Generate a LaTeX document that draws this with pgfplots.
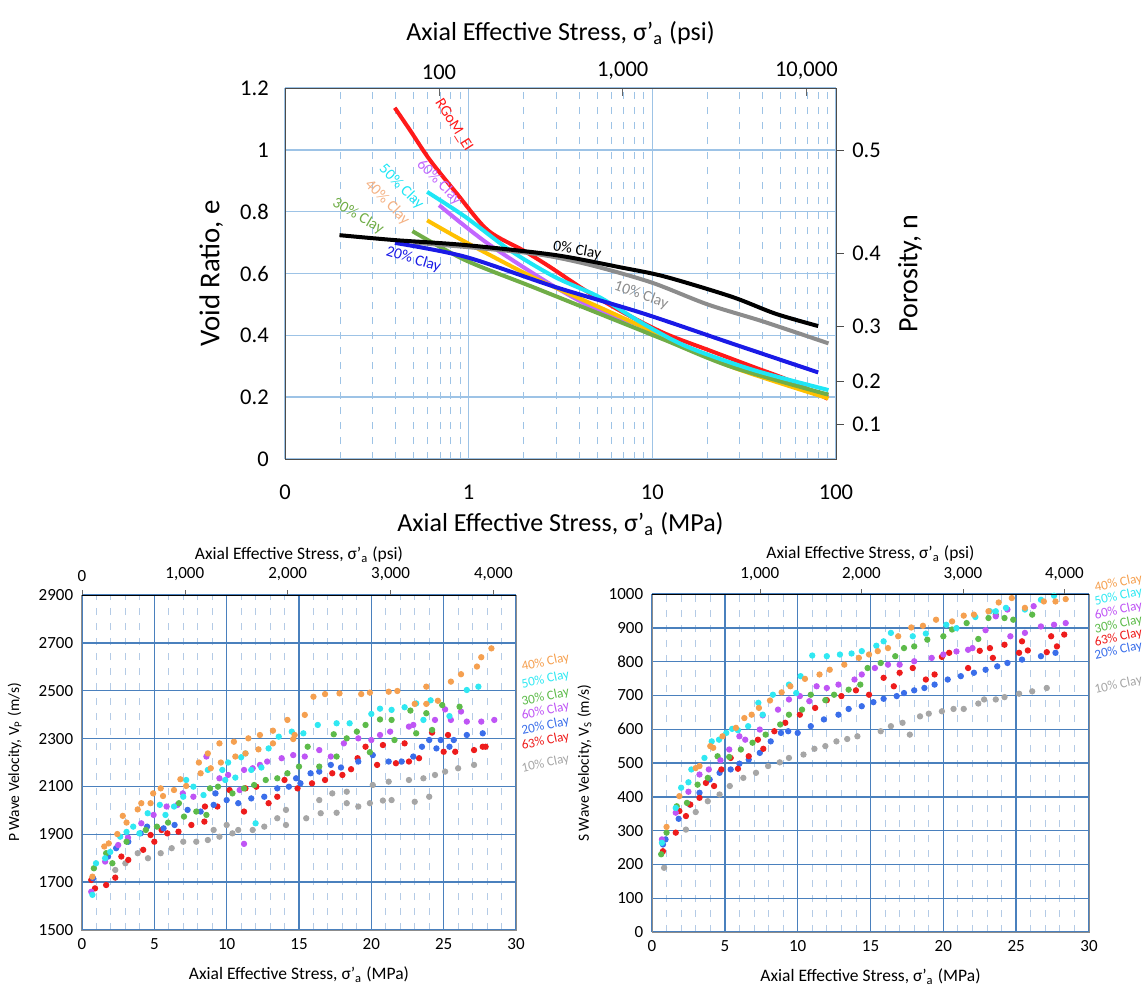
\documentclass[border=0pt]{standalone}
\usepackage{pgfplots}
\pgfplotsset{compat=1.18}
\usepackage{fontspec}
\setmainfont{Carlito}

% line / mark colours
\definecolor{cRed}{HTML}{FF1A1A}
\definecolor{cGray}{HTML}{8C8C8C}
\definecolor{cBlue}{HTML}{1A1AE6}
\definecolor{cGreen}{HTML}{70AD47}
\definecolor{cGold}{HTML}{FFC000}
\definecolor{cCyan}{HTML}{1EE6F5}
\definecolor{cPurple}{HTML}{C266FF}
\definecolor{cPeach}{HTML}{F4B183}
% scatter colours
\definecolor{sOrange}{HTML}{F5A050}
\definecolor{sCyan}{HTML}{30E8F2}
\definecolor{sGreen}{HTML}{5DBB4A}
\definecolor{sPurple}{HTML}{BF55F5}
\definecolor{sBlue}{HTML}{3A6EEA}
\definecolor{sRed}{HTML}{EE1C1C}
\definecolor{sGray}{HTML}{A6A6A6}
% grids
\definecolor{gridLight}{HTML}{9DC3E6}
\definecolor{gridSteel}{HTML}{4A80BD}
\definecolor{gridDash}{HTML}{B4CBE6}

\newcommand{\fs}[1]{\fontsize{#1}{#1}\selectfont}

\tikzset{
  clab/.style={font=\fs{5.3}, rotate=12, anchor=west, inner sep=1pt},
  tlab/.style={font=\fs{6.2}, inner sep=1pt},
}

\pgfplotsset{
  topax/.style={scale only axis, width=220.4pt, height=148.4pt,
    at={(114pt,211.2pt)}, anchor=south west},
  blax/.style={scale only axis, width=173.6pt, height=134pt,
    at={(32.8pt,22.8pt)}, anchor=south west},
  brax/.style={scale only axis, width=174.8pt, height=135.2pt,
    at={(260.8pt,22pt)}, anchor=south west},
  vel/.style={xmin=0, xmax=30, xtick={0,5,...,30},
    minor xtick={1,2,...,29},
    xmajorgrids, ymajorgrids, xminorgrids,
    major grid style={color=gridSteel, line width=0.55pt},
    minor grid style={color=gridDash, dashed, line width=0.35pt},
    major tick length=0pt, minor tick length=0pt,
    axis line style={color=black!45},
    ticklabel style={font=\fs{6.8}},
    label style={font=\fs{7}},
    clip=false},
  psi/.style={axis x line*=top, axis y line=none,
    ymin=0, ymax=1, tick align=outside, major tick length=2pt,
    minor tick length=0pt,
    tick style={color=black!60},
    ticklabel style={font=\fs{6.8}},
    xlabel={Axial Effective Stress, σ'\textsubscript{a} (psi)},
    xlabel style={font=\fs{7}, at={(axis description cs:0.5,1)}, anchor=south, yshift=9.5pt}},
  pts/.style={only marks, mark=*, mark size=1.05pt, color=#1,
    mark options={solid, draw=#1, fill=#1}},
}

\begin{document}
\begin{tikzpicture}
\useasboundingbox (0,0) rectangle (457.2pt,394.8pt);

% ================= top panel: void ratio =================
\begin{axis}[topax,
  xmode=log, xmin=0.1, xmax=100, ymin=0, ymax=1.2,
  xtick={0.1,1,10,100}, xticklabels={0,1,10,100},
  minor xtick={0.2,0.3,0.4,0.5,0.6,0.7,0.8,0.9,2,3,4,5,6,7,8,9,20,30,40,50,60,70,80,90},
  ytick={0,0.2,0.4,0.6,0.8,1,1.2}, yticklabels={0,0.2,0.4,0.6,0.8,1,1.2},
  xmajorgrids, ymajorgrids, xminorgrids,
  major grid style={color=gridLight, line width=0.6pt},
  minor grid style={color=gridLight, dashed, line width=0.4pt},
  major tick length=0pt, minor tick length=0pt,
  axis line style={color=black!70},
  ticklabel style={font=\fs{9}},
  xticklabel style={yshift=-7pt},
  yticklabel style={xshift=-3pt},
  xlabel={Axial Effective Stress, σ'\textsubscript{a} (MPa)},
  ylabel={Void Ratio, e},
  xlabel style={font=\fs{10.4}, yshift=2pt},
  ylabel style={font=\fs{11.5}},
]
\addplot[cRed, line width=1.6pt, smooth] coordinates {
  (0.396,1.136)(0.48,1.063)(0.617,0.966)(0.861,0.859)(1.27,0.740)(1.98,0.675)
  (2.76,0.622)(4.3,0.546)(7.1,0.471)(11.7,0.406)(20.3,0.352)(35.4,0.298)(55.2,0.255)(90,0.195)};
\addplot[cPurple, line width=1.6pt, smooth] coordinates {
  (0.69,0.821)(1.27,0.697)(2.94,0.557)(5.1,0.481)(8.9,0.428)(15.5,0.363)(35,0.28)(91,0.201)};
\addplot[cGold, line width=1.6pt, smooth] coordinates {
  (0.594,0.772)(0.96,0.702)(2.22,0.589)(5.1,0.492)(11.7,0.395)(27,0.298)(91,0.196)};
\addplot[cGreen, line width=1.6pt, smooth] coordinates {
  (0.494,0.737)(0.96,0.643)(2.22,0.557)(5.1,0.471)(11.7,0.385)(27,0.298)(91,0.208)};
\addplot[cCyan, line width=1.6pt, smooth] coordinates {
  (0.594,0.864)(0.96,0.783)(1.68,0.675)(2.94,0.589)(5.1,0.525)(8.9,0.438)(15.5,0.363)(35.5,0.288)(91,0.223)};
\addplot[cGray, line width=1.6pt, smooth] coordinates {
  (0.5,0.70)(1,0.685)(2,0.668)(3,0.652)(5,0.622)(10,0.57)(20,0.5)(40,0.445)(91,0.374)};
\addplot[cBlue, line width=1.6pt, smooth] coordinates {
  (0.397,0.699)(0.96,0.654)(2.94,0.557)(8.9,0.471)(27,0.374)(80,0.28)};
\addplot[black, line width=1.6pt, smooth] coordinates {
  (0.198,0.724)(0.397,0.708)(0.96,0.692)(2.94,0.66)(6.7,0.62)(11.7,0.59)(27,0.525)(46.8,0.47)(80,0.43)};

\node[tlab, text=cRed, rotate=-58] at (axis cs:0.83,1.08) {RGoM\_EI};
\node[tlab, text=cPurple, rotate=-45] at (axis cs:0.69,0.895) {60\% Clay};
\node[tlab, text=cCyan, rotate=-45] at (axis cs:0.43,0.88) {50\% Clay};
\node[tlab, text=cPeach, rotate=-45] at (axis cs:0.36,0.83) {40\% Clay};
\node[tlab, text=cGreen, rotate=-30] at (axis cs:0.25,0.785) {30\% Clay};
\node[tlab, text=cBlue, rotate=-17] at (axis cs:0.50,0.645) {20\% Clay};
\node[tlab, text=black, rotate=-10] at (axis cs:3.9,0.675) {0\% Clay};
\node[tlab, text=cGray, rotate=-20] at (axis cs:8.7,0.53) {10\% Clay};
\end{axis}

% secondary top/right axes of the top panel
\begin{axis}[topax,
  xmode=log, xmin=14.5038, xmax=14503.8, ymin=0, ymax=1.2,
  axis x line*=top, axis y line*=right,
  xtick={100,1000,10000}, xticklabels={100,{1,000},{10,000}},
  ytick={0.11111,0.25,0.42857,0.66667,1}, yticklabels={0.1,0.2,0.3,0.4,0.5},
  minor tick length=0pt, major tick length=3pt,
  xtick style={color=black!60},
  ytick style={color=black!70},
  ytick align=outside, xtick align=inside,
  axis line style={color=black!70},
  ticklabel style={font=\fs{9}},
  xlabel={Axial Effective Stress, σ'\textsubscript{a} (psi)},
  ylabel={Porosity, n},
  xlabel style={font=\fs{10.4}},
  ylabel style={font=\fs{11.2}},
]
\end{axis}

% ================= bottom left: P wave =================
\begin{axis}[blax, vel,
  ymin=1500, ymax=2900, ytick={1500,1700,...,2900},
  yticklabels={1500,1700,1900,2100,2300,2500,2700,2900},
  xticklabels={0,5,10,15,20,25,30},
  xlabel={Axial Effective Stress, σ'\textsubscript{a} (MPa)},
  ylabel={P Wave Velocity, V\textsubscript{P} (m/s)},
  ylabel style={font=\fs{6.2}},
]
\addplot[pts=sGray] coordinates {
  (2.3,1751)(3.0,1779)(3.85,1821)(4.56,1800)(5.44,1821)(6.2,1842)(7.0,1869)(7.9,1869)(8.7,1876)
  (9.1,1918)(9.5,1890)(10.0,1939)(10.4,1904)(10.8,1918)(11.8,1918)(12.6,1932)(13.5,1967)(14.1,1939)
  (14.1,2002)(15.5,1967)(16.4,2043)(16.5,1988)(17.3,2071)(17.6,1990)(18.3,2030)(18.3,2078)(19.1,2016)
  (19.9,2030)(20.1,2106)(20.8,2041)(21.2,2120)(21.4,2043)(22.6,2127)(23.0,2036)(23.6,2134)(24.0,2057)
  (24.4,2148)(25.1,2162)(26.0,2176)(27.1,2190)};
\addplot[pts=sRed] coordinates {
  (0.64,1709)(0.9,1674)(1.67,1688)(2.3,1719)(2.72,1807)(3.2,1793)(4.23,1835)(4.74,1897)(5.0,1869)
  (5.5,1918)(5.9,1904)(6.67,1911)(7.56,1939)(8.46,1953)(8.5,2016)(9.36,2016)(10.2,2085)(11.2,1995)
  (11.3,2092)(12.05,2099)(12.9,2030)(13.5,2057)(14.0,2127)(14.9,2092)(15.9,2113)(16.8,2127)(17.3,2155)
  (18.0,2148)(18.6,2172)(19.05,2218)(19.6,2266)(20.4,2190)(20.8,2273)(21.7,2197)(22.3,2280)(22.6,2204)
  (23.3,2218)(24.2,2325)(25.0,2245)(25.3,2315)(25.8,2245)(27.1,2252)(27.7,2266)(27.9,2266)};
\addplot[pts=sBlue] coordinates {
  (0.77,1716)(1.8,1807)(2.36,1842)(3.2,1869)(4.05,1904)(4.5,1932)(5.64,1925)(6.4,1939)(7.3,2002)
  (8.2,1995)(9.1,2023)(9.23,2071)(10.0,2043)(10.8,2030)(11.7,2050)(12.6,2057)(13.5,2092)(14.3,2099)
  (14.8,2134)(15.1,2113)(15.8,2155)(16.4,2162)(17.2,2190)(17.9,2179)(19.1,2204)(20.1,2231)(21.2,2204)
  (22.1,2204)(22.9,2225)(23.5,2266)(24.0,2294)(24.5,2259)(24.8,2294)(25.4,2266)(25.7,2294)(26.6,2315)(27.7,2322)};
\addplot[pts=sPurple] coordinates {
  (0.64,1660)(1.6,1786)(2.5,1855)(3.18,1886)(4.1,1946)(4.95,1981)(5.85,2016)(6.6,2023)(6.97,2071)
  (7.7,2057)(8.6,2225)(9.5,2134)(10.1,2148)(10.9,2085)(11.2,2169)(11.2,1860)(11.8,2176)(12.3,2190)
  (12.8,2204)(13.8,2218)(14.6,2231)(15.4,2225)(16.4,2252)(17.2,2225)(18.1,2280)(19.1,2301)(20.0,2294)
  (20.6,2315)(21.3,2329)(22.6,2350)(22.9,2357)(24.4,2378)(25.1,2422)(25.5,2378)(26.2,2413)(26.6,2371)
  (27.6,2371)(28.5,2378)};
\addplot[pts=sGreen] coordinates {
  (0.82,1758)(1.67,1821)(2.1,1779)(3.08,1869)(4.41,1918)(5.18,1932)(5.95,1949)(6.7,2030)(7.05,1974)
  (7.9,1995)(8.6,1981)(8.85,2092)(9.4,2099)(10.4,2071)(11.2,2092)(11.9,2106)(12.7,2127)(13.5,2134)
  (14.2,2155)(15.0,2183)(15.6,2266)(16.4,2183)(17.4,2318)(17.6,2225)(18.3,2301)(19.0,2329)(19.6,2357)
  (19.9,2243)(20.6,2380)(21.4,2378)(21.6,2294)(22.7,2417)(23.1,2322)(23.8,2406)(24.2,2336)(24.9,2440)(26.1,2433)};
\addplot[pts=sCyan] coordinates {
  (0.72,1647)(0.97,1779)(1.6,1800)(1.95,1826)(2.64,1890)(3.08,1910)(3.54,1932)(3.97,1904)(4.54,1988)
  (5.38,2023)(5.77,1981)(6.36,2016)(7.0,2057)(7.2,2127)(7.7,2099)(8.4,2064)(8.7,2169)(9.7,2169)
  (9.9,2127)(10.1,2200)(10.6,2137)(11.0,2222)(11.3,2238)(11.7,2169)(12.0,1946)(12.4,2179)(12.9,2259)
  (13.6,2308)(14.5,2329)(15.3,2322)(16.3,2357)(17.6,2364)(18.5,2364)(20.0,2403)(20.6,2425)(21.4,2420)
  (22.3,2431)(23.1,2447)(23.6,2378)(24.1,2460)(25.4,2394)(26.6,2503)(27.4,2517)};
\addplot[pts=sOrange] coordinates {
  (0.72,1723)(1.54,1849)(1.85,1862)(2.44,1901)(2.82,1977)(3.08,1949)(3.85,2004)(4.1,2030)(4.74,2030)
  (4.92,2071)(5.44,2092)(5.6,2060)(6.36,2085)(6.8,2130)(7.2,2102)(8.08,2200)(8.2,2155)(8.7,2238)
  (8.9,2176)(9.5,2280)(9.6,2200)(10.5,2287)(10.6,2225)(11.3,2238)(11.5,2301)(12.2,2255)(12.3,2315)
  (13.2,2333)(13.2,2280)(14.2,2378)(14.6,2298)(14.7,2315)(15.4,2399)(16.0,2475)(16.8,2486)(17.8,2489)
  (19.3,2486)(19.9,2492)(21.2,2496)(21.8,2499)(23.0,2445)(23.8,2517)(23.8,2445)(24.6,2458)(25.5,2538)
  (26.2,2569)(27.3,2601)(27.6,2640)(28.3,2677)};
\node[clab, text=sOrange] at (axis cs:30.2,2595) {40\% Clay};
\node[clab, text=sCyan] at (axis cs:30.2,2523) {50\% Clay};
\node[clab, text=sGreen] at (axis cs:30.2,2450) {30\% Clay};
\node[clab, text=sPurple] at (axis cs:30.2,2391) {60\% Clay};
\node[clab, text=sBlue] at (axis cs:30.2,2328) {20\% Clay};
\node[clab, text=sRed] at (axis cs:30.2,2265) {63\% Clay};
\node[clab, text=sGray] at (axis cs:30.2,2171) {10\% Clay};
\end{axis}
\begin{axis}[blax, psi, xmin=0, xmax=4220,
  xtick={0,1000,2000,3000,4000}, xticklabels={0,{1,000},{2,000},{3,000},{4,000}}]
\end{axis}

% ================= bottom right: S wave =================
\begin{axis}[brax, vel,
  ymin=0, ymax=1000, ytick={0,100,...,1000},
  yticklabels={0,100,200,300,400,500,600,700,800,900,1000},
  xticklabels={0,5,10,15,20,25,30},
  xlabel={Axial Effective Stress, σ'\textsubscript{a} (MPa)},
  ylabel={S Wave Velocity, V\textsubscript{S} (m/s)},
  ylabel style={font=\fs{6.2}},
]
\addplot[pts=sGray] coordinates {
  (0.83,190)(2.33,303)(3.0,355)(3.83,387)(4.64,407)(5.34,432)(6.27,456)(7.14,471)(7.97,491)(8.77,502)
  (9.4,515)(10.4,525)(11.15,542)(11.9,550)(12.66,564)(13.4,571)(14.1,579)(15.7,594)(16.4,609)(17.2,619)
  (17.7,584)(18.4,638)(19.0,646)(19.9,653)(20.7,660)(21.4,660)(22.4,676)(22.8,688)(23.6,688)(24.2,695)
  (25.2,705)(26.1,712)(27.1,722)};
\addplot[pts=sBlue] coordinates {
  (0.75,259)(0.93,274)(1.83,335)(2.6,377)(3.26,412)(3.96,451)(4.64,471)(5.4,481)(6.0,498)(6.64,510)
  (7.4,530)(8.15,564)(8.85,589)(9.35,594)(10.0,589)(10.9,609)(11.8,629)(12.8,643)(13.5,660)(14.4,668)
  (15.2,680)(15.9,690)(16.8,698)(17.3,707)(18.0,715)(18.7,722)(19.4,732)(20.3,747)(21.2,757)(22.1,767)
  (22.9,776)(23.7,786)(24.4,796)(25.4,806)(26.7,816)(27.7,826)};
\addplot[pts=sRed] coordinates {
  (0.75,239)(1.63,294)(1.88,358)(2.33,343)(2.63,377)(3.26,397)(3.7,441)(4.26,432)(4.76,481)(5.4,515)
  (5.9,483)(6.64,520)(7.27,569)(7.64,542)(8.4,594)(9.15,619)(10.15,643)(11.2,663)(12.0,686)(13.0,698)
  (14.0,715)(14.9,702)(15.9,752)(16.6,727)(17.0,767)(17.9,781)(18.8,747)(19.4,762)(19.9,814)(20.4,826)
  (21.7,781)(22.5,832)(23.2,840)(23.4,811)(24.2,850)(25.2,826)(25.4,860)(25.8,833)(27.1,828)(27.4,875)
  (27.8,845)(28.3,880)};
\addplot[pts=sGreen] coordinates {
  (0.63,230)(1.0,294)(1.7,372)(2.4,382)(3.13,436)(3.83,456)(4.5,520)(5.3,518)(6.1,540)(6.9,560)
  (7.8,584)(8.8,614)(9.4,643)(10.3,658)(10.9,702)(11.9,686)(12.5,702)(13.5,717)(14.3,732)(14.8,781)
  (15.7,796)(16.7,816)(17.3,840)(18.0,845)(18.9,865)(20.0,875)(20.6,895)(21.6,914)(22.4,867)(23.1,929)
  (23.6,939)(24.2,929)(24.8,924)(26.1,939)};
\addplot[pts=sPurple] coordinates {
  (0.68,274)(1.63,353)(2.5,415)(3.26,466)(3.9,481)(4.7,508)(5.3,540)(6.0,579)(6.4,569)(7.4,599)
  (7.6,641)(8.65,658)(9.4,688)(10.15,698)(10.8,683)(11.3,727)(12.0,722)(12.8,732)(13.9,747)(14.4,762)
  (15.3,781)(16.2,791)(17.0,791)(18.0,801)(19.2,811)(20.0,821)(20.9,830)(21.7,835)(22.0,840)(22.9,893)
  (23.6,934)(24.4,954)(24.6,875)(25.6,885)(26.2,964)(26.7,904)(27.6,909)(28.4,914)};
\addplot[pts=sCyan] coordinates {
  (0.68,264)(1.63,367)(2.0,427)(2.5,443)(2.7,481)(3.6,515)(4.1,564)(4.6,569)(5.1,589)(5.5,601)
  (5.9,597)(6.6,609)(7.3,678)(7.6,643)(8.3,702)(9.4,732)(9.9,707)(10.2,757)(11.0,818)(12.0,816)
  (12.9,821)(13.7,824)(14.4,831)(15.4,847)(15.9,860)(16.4,885)(17.9,875)(18.8,883)(20.2,909)(20.9,899)
  (22.2,932)(23.2,949)(23.6,949)(24.3,959)(25.6,954)(26.7,983)(27.6,995)};
\addplot[pts=sOrange] coordinates {
  (1.0,311)(1.88,402)(3.0,485)(3.26,491)(4.0,550)(4.2,545)(4.84,579)(5.76,604)(6.34,633)(6.84,643)
  (7.34,663)(8.1,685)(8.9,709)(9.5,727)(10.5,749)(11.5,762)(12.2,776)(13.2,791)(14.2,811)(14.9,821)
  (15.5,831)(16.2,840)(16.9,875)(17.8,901)(18.6,906)(19.5,924)(20.6,919)(21.4,936)(22.1,939)(23.1,949)
  (23.8,975)(24.7,988)(25.6,959)(26.9,978)(27.7,978)(28.4,985)};
\node[clab, text=sOrange] at (axis cs:30.2,1015) {40\% Clay};
\node[clab, text=sCyan] at (axis cs:30.2,975) {50\% Clay};
\node[clab, text=sPurple] at (axis cs:30.2,934) {60\% Clay};
\node[clab, text=sGreen] at (axis cs:30.2,893) {30\% Clay};
\node[clab, text=sRed] at (axis cs:30.2,854) {63\% Clay};
\node[clab, text=sBlue] at (axis cs:30.2,816) {20\% Clay};
\node[clab, text=sGray] at (axis cs:30.2,714) {10\% Clay};
\end{axis}
\begin{axis}[brax, psi, xmin=-62, xmax=4242,
  xtick={1000,2000,3000,4000}, xticklabels={{1,000},{2,000},{3,000},{4,000}}]
\end{axis}

\end{tikzpicture}
\end{document}
